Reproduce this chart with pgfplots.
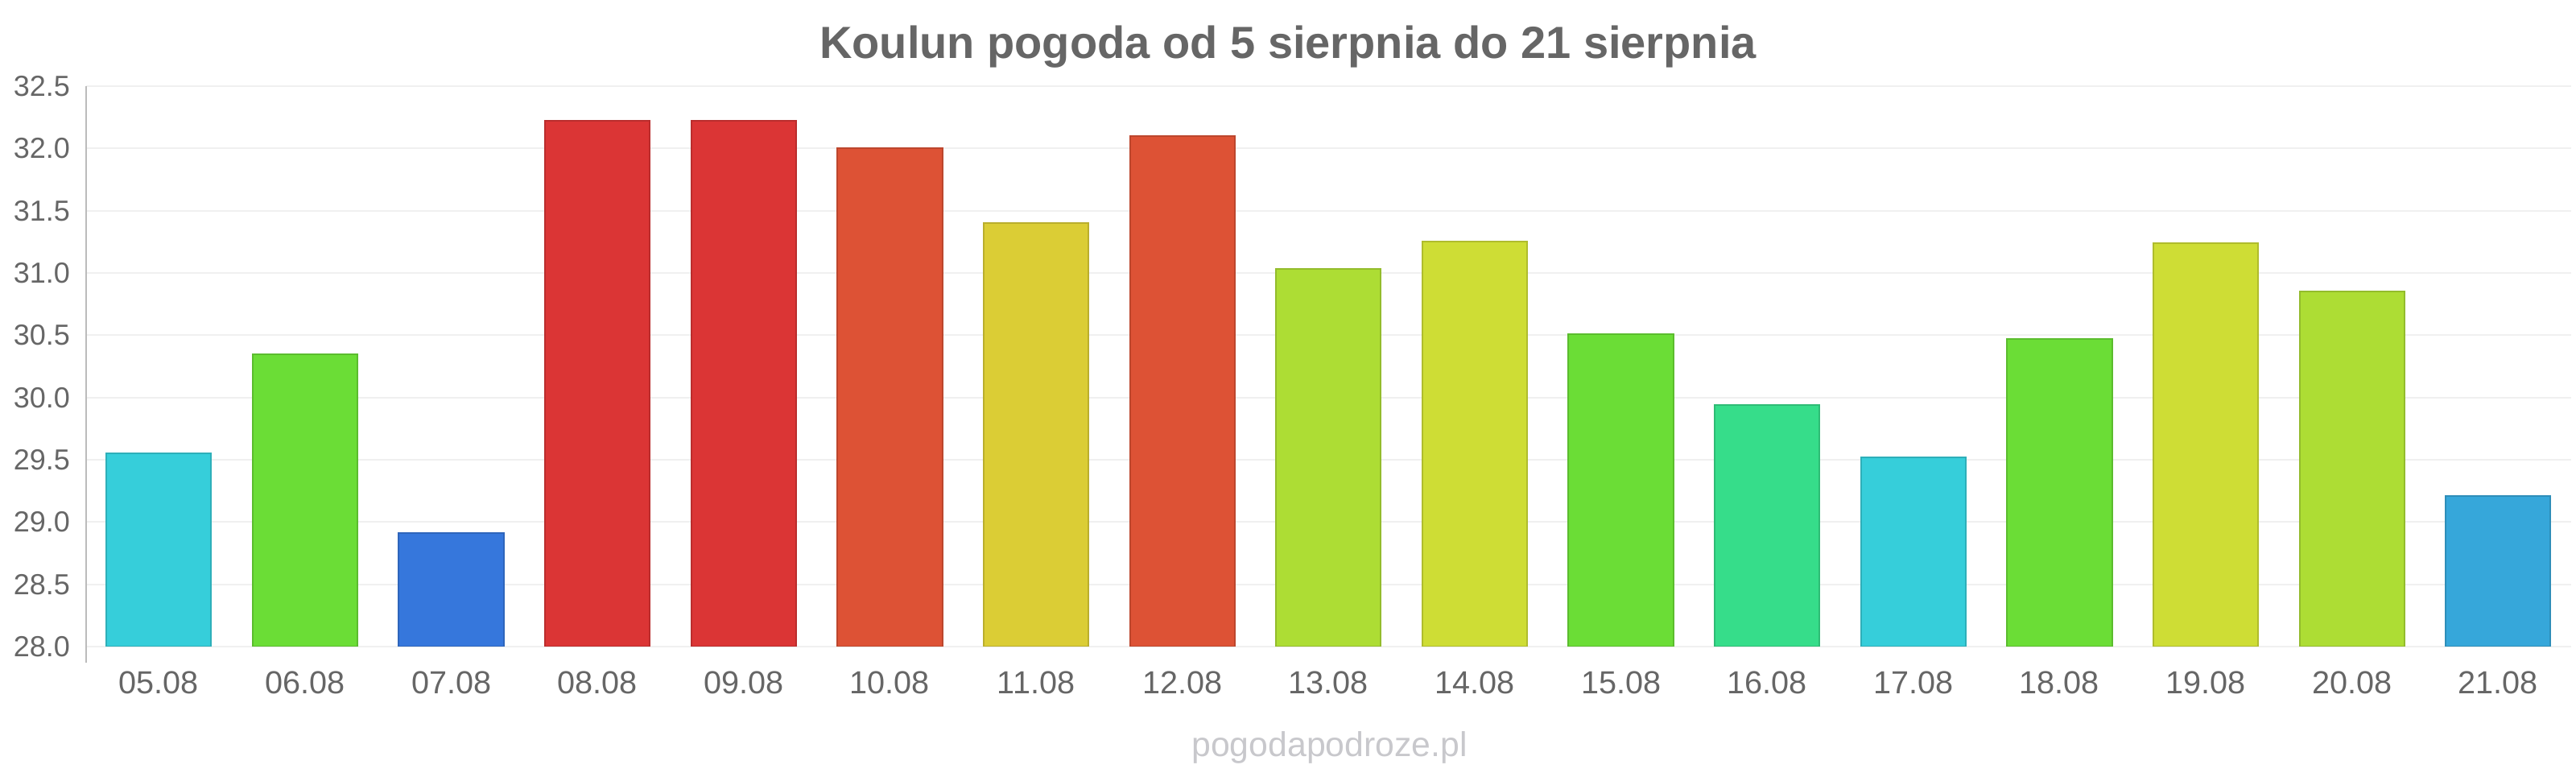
\documentclass[border=0pt]{standalone}
\usepackage{fontspec}
\setmainfont{Liberation Sans}
\usepackage{pgfplots}
\pgfplotsset{compat=1.18}
\definecolor{txt}{HTML}{666666}
\definecolor{wm}{HTML}{C8C8CC}
\definecolor{gridc}{HTML}{F0F0F0}
\definecolor{axc}{HTML}{BBBBBB}
\definecolor{cCyan}{HTML}{36CEDA}
\definecolor{cGreen}{HTML}{6BDD36}
\definecolor{cBlue}{HTML}{3677DC}
\definecolor{cRed}{HTML}{DB3535}
\definecolor{cOrange}{HTML}{DD5235}
\definecolor{cYellow}{HTML}{DBCD35}
\definecolor{cLime}{HTML}{ADDD34}
\definecolor{cYG}{HTML}{CEDD35}
\definecolor{cTeal}{HTML}{36DD8A}
\definecolor{cSky}{HTML}{36A7DA}
\pgfplotsset{
  mybar/.style={fill=#1, draw=#1!85!black, line width=0.5pt, bar shift=0pt},
}
\begin{document}
\begin{tikzpicture}
\useasboundingbox (0,0) rectangle (800pt,240pt);
\begin{axis}[
  name=a,
  at={(26.625pt,39.25pt)}, anchor=south west,
  scale only axis, width=771.9pt, height=174pt,
  xmin=-0.5, xmax=16.5, ymin=28, ymax=32.5,
  ybar, bar width=0.717,
  /pgf/number format/assume math mode=true,
  axis line style={draw=none},
  major tick length=0pt,
  ymajorgrids, grid style={color=gridc, line width=0.5pt},
  ytick={28,28.5,29,29.5,30,30.5,31,31.5,32,32.5},
  yticklabel style={/pgf/number format/fixed, /pgf/number format/fixed zerofill, /pgf/number format/precision=1, /pgf/number format/assume math mode=true},
  yticklabel style={anchor=east, inner sep=0pt, xshift=-4.7pt, text=txt, font=\fontsize{9}{9}\selectfont},
  xtick={0,1,2,3,4,5,6,7,8,9,10,11,12,13,14,15,16},
  xticklabels={05.08,06.08,07.08,08.08,09.08,10.08,11.08,12.08,13.08,14.08,15.08,16.08,17.08,18.08,19.08,20.08,21.08},
  xticklabel style={anchor=base, inner sep=0pt, yshift=-14.7pt, text=txt, font=\fontsize{9.9}{9.9}\selectfont},
]
\addplot[mybar=cCyan] coordinates {(0,29.55)};
\addplot[mybar=cGreen] coordinates {(1,30.35)};
\addplot[mybar=cBlue] coordinates {(2,28.91)};
\addplot[mybar=cRed] coordinates {(3,32.22)};
\addplot[mybar=cRed] coordinates {(4,32.22)};
\addplot[mybar=cOrange] coordinates {(5,32.0)};
\addplot[mybar=cYellow] coordinates {(6,31.4)};
\addplot[mybar=cOrange] coordinates {(7,32.1)};
\addplot[mybar=cLime] coordinates {(8,31.03)};
\addplot[mybar=cYG] coordinates {(9,31.25)};
\addplot[mybar=cGreen] coordinates {(10,30.51)};
\addplot[mybar=cTeal] coordinates {(11,29.94)};
\addplot[mybar=cCyan] coordinates {(12,29.52)};
\addplot[mybar=cGreen] coordinates {(13,30.47)};
\addplot[mybar=cYG] coordinates {(14,31.24)};
\addplot[mybar=cLime] coordinates {(15,30.85)};
\addplot[mybar=cSky] coordinates {(16,29.21)};
\end{axis}
\draw[axc, line width=0.5pt] ([yshift=-5pt]a.south west) -- (a.north west);
\node[anchor=base, inner sep=0pt, text=txt, font=\bfseries\fontsize{14}{14}\selectfont] at (400pt,221.8pt) {Koulun pogoda od 5 sierpnia do 21 sierpnia};
\node[anchor=base, inner sep=0pt, text=wm, font=\fontsize{10.7}{10.7}\selectfont] at (412.9pt,5pt) {pogodapodroze.pl};
\end{tikzpicture}
\end{document}
